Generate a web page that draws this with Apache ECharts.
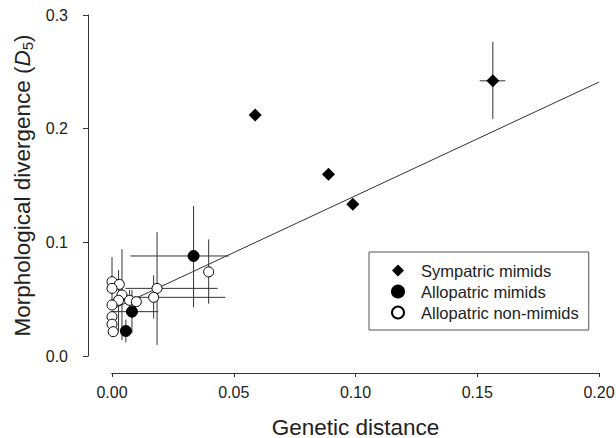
<!DOCTYPE html>
<html>
<head>
<meta charset="utf-8">
<script src="https://cdn.jsdelivr.net/npm/echarts@6/dist/echarts.min.js"></script>
<style>html,body{margin:0;padding:0;background:#fff}#c{width:616px;height:438px}</style>
</head>
<body>
<div id="c"></div>
<script>
// ---- data ----
var xTickLabels = ['0.00', '0.05', '0.10', '0.15', '0.20'];
var yTickLabels = ['0.0', '0.1', '0.2', '0.3'];

// Sympatric mimids [genetic distance, D5]
var sympatric = [[0.0588, 0.212], [0.0889, 0.1598], [0.0989, 0.1334], [0.1564, 0.2421]];
// Allopatric mimids
var allopatric = [[0.0335, 0.088], [0.0082, 0.039], [0.0057, 0.022]];
// Allopatric non-mimids
var nonMimids = [
  [0.0000, 0.0654], [0.0030, 0.0630], [0.0000, 0.0595], [0.0041, 0.0537],
  [0.0185, 0.0595], [0.0171, 0.0516], [0.0027, 0.0490], [0.0072, 0.0490],
  [0.0100, 0.0478], [0.0000, 0.0449], [0.0000, 0.0346], [0.0000, 0.0280],
  [0.0005, 0.0214], [0.0397, 0.0740]
];
// error bars: [x, y, xLow, xHigh, yLow, yHigh]  (null = none)
var errorBars = [
  [0.1564, 0.2421, 0.1510, 0.1615, 0.2084, 0.2764],
  [0.0335, 0.0880, 0.0075, 0.0480, 0.0430, 0.1320],
  [0.0082, 0.0390, 0.0000, 0.0190, 0.0200, 0.0580],
  [0.0057, 0.0220, null, null, 0.0120, 0.0320],
  [0.0000, 0.0654, null, null, 0.0440, 0.0870],
  [0.0041, 0.0537, null, null, 0.0140, 0.0940],
  [0.0185, 0.0595, 0.0055, 0.0434, 0.0097, 0.1090],
  [0.0171, 0.0516, 0.0010, 0.0465, 0.0330, 0.0710],
  [0.0027, 0.0490, null, null, 0.0220, 0.0756],
  [0.0072, 0.0490, 0.0010, 0.0085, 0.0400, 0.0580],
  [0.0397, 0.0740, null, null, 0.0460, 0.1026]
];
// regression line
var regression = [[0.0, 0.041], [0.2, 0.241]];

var FONT = 'Liberation Sans, Arial, Helvetica, sans-serif';
var chart = echarts.init(document.getElementById('c'), null, {renderer: 'svg'});

var option = {
  animation: false,
  backgroundColor: '#fff',
  textStyle: {fontFamily: FONT, color: '#222'},
  grid: {left: 112, right: 17, top: 15, bottom: 82, containLabel: false, outerBoundsMode: 'none'},
  legend: {
    orient: 'vertical',
    left: 369, top: 252,
    padding: [10, 10, 9, 22],
    itemGap: 4,
    itemWidth: 12, itemHeight: 12,
    borderColor: '#555', borderWidth: 1,
    textStyle: {fontFamily: FONT, fontSize: 16.5, color: '#222', lineHeight: 16, padding: [0, 0, 0, 12]},
    data: ['Sympatric mimids', 'Allopatric mimids', 'Allopatric non-mimids']
  },
  xAxis: [{
    type: 'value', min: 0, max: 0.2, interval: 0.05, offset: 17, position: 'bottom',
    axisLine: {show: true, onZero: false, lineStyle: {color: '#333', width: 1}},
    axisTick: {show: true, length: 4, inside: false, lineStyle: {color: '#333', width: 1}},
    axisLabel: {fontSize: 16, color: '#222', fontFamily: FONT, margin: 11,
      formatter: function (v) { return xTickLabels[Math.round(v / 0.05)]; }},
    splitLine: {show: false},
    name: 'Genetic distance', nameLocation: 'middle', nameGap: 43,
    nameTextStyle: {fontSize: 22.5, color: '#222', fontFamily: FONT}
  }, {
    type: 'value', min: 0, max: 0.2, interval: 0.05, offset: 17, position: 'bottom',
    axisLine: {show: true, onZero: false, lineStyle: {color: '#333', width: 1}},
    axisTick: {show: true, length: 4, inside: false, lineStyle: {color: '#333', width: 1}},
    axisLabel: {show: false},
    splitLine: {show: false}
  }],
  yAxis: {
    type: 'value', min: 0, max: 0.3, interval: 0.1, offset: 24,
    axisLine: {show: true, onZero: false, lineStyle: {color: '#333', width: 1}},
    axisTick: {show: true, length: 5, inside: false, lineStyle: {color: '#333', width: 1}},
    axisLabel: {fontSize: 16, color: '#222', fontFamily: FONT, margin: 20,
      formatter: function (v) { return yTickLabels[Math.round(v / 0.1)]; }},
    splitLine: {show: false},
    name: 'Morphological divergence ({it|D}{sub|5})', nameLocation: 'middle', nameGap: 47,
    nameTextStyle: {fontSize: 22.5, color: '#222', fontFamily: FONT,
      rich: {
        it: {fontSize: 22.5, fontStyle: 'italic', fontFamily: FONT, color: '#222'},
        sub: {fontSize: 15, fontFamily: FONT, color: '#222', verticalAlign: 'bottom', padding: [9, 0, 0, 0]}
      }}
  },
  series: [
    {
      type: 'line', name: 'fit', data: regression, showSymbol: false, symbol: 'none', xAxisIndex: 0,
      lineStyle: {color: '#333', width: 1}, z: 1, silent: true
    },
    {
      type: 'custom', name: 'err', data: errorBars, z: 2, silent: true, xAxisIndex: 0,
      renderItem: function (params, api) {
        var x = api.value(0), y = api.value(1);
        var xl = api.value(2), xh = api.value(3), yl = api.value(4), yh = api.value(5);
        var children = [];
        var st = {stroke: '#333', lineWidth: 1};
        if (!isNaN(yl) && !isNaN(yh) && yl !== null) {
          var a = api.coord([x, yl]), b = api.coord([x, yh]);
          children.push({type: 'line', shape: {x1: a[0], y1: a[1], x2: b[0], y2: b[1]}, style: st});
        }
        if (!isNaN(xl) && !isNaN(xh) && xl !== null) {
          var c = api.coord([xl, y]), d = api.coord([xh, y]);
          children.push({type: 'line', shape: {x1: c[0], y1: c[1], x2: d[0], y2: d[1]}, style: st});
        }
        return {type: 'group', children: children};
      },
      encode: {x: 0, y: 1}
    },
    {
      type: 'scatter', name: 'Sympatric mimids', data: sympatric, symbol: 'diamond', symbolSize: 13, xAxisIndex: 0,
      itemStyle: {color: '#000', borderColor: '#000', borderWidth: 0, opacity: 1}, z: 5
    },
    {
      type: 'scatter', name: 'Allopatric mimids', data: allopatric, symbol: 'circle', symbolSize: 11, xAxisIndex: 0,
      itemStyle: {color: '#000', borderColor: '#000', borderWidth: 1, opacity: 1}, z: 5
    },
    {
      type: 'scatter', name: 'Allopatric non-mimids', data: nonMimids, symbol: 'circle', symbolSize: 10, xAxisIndex: 0,
      itemStyle: {color: '#fff', borderColor: '#000', borderWidth: 1, opacity: 1}, z: 4
    }
  ]
};
chart.setOption(option);
</script>
</body>
</html>
